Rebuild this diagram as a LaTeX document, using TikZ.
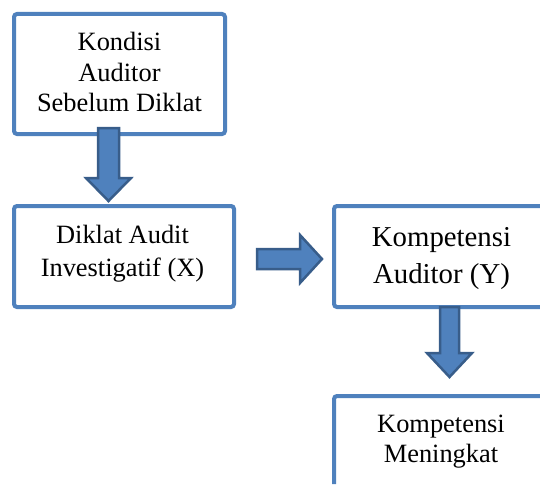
\documentclass[tikz,border=0pt]{standalone}
\usepackage{fontspec}
\setmainfont{Liberation Serif}
\definecolor{boxblue}{HTML}{4F81BD}
\definecolor{arrowedge}{HTML}{385D8A}
\tikzset{
  flowbox/.style={draw=boxblue, line width=4pt, rounded corners=3pt, rectangle, inner sep=0pt, fill=white},
  openbox/.style={draw=boxblue, line width=4pt, rounded corners=3pt, line cap=butt},
  txt/.style={anchor=base, inner sep=0pt, font=\fontsize{26.4}{30}\selectfont},
  bigtxt/.style={anchor=base, inner sep=0pt, font=\fontsize{28.8}{34}\selectfont},
  blockarrow/.style={fill=boxblue, draw=arrowedge, line width=2.5pt, line join=miter}
}
\begin{document}
\begin{tikzpicture}[x=1pt, y=-1pt]
\fill[white] (0,0) rectangle (540,484);
\useasboundingbox (0,0) rectangle (540,484);
% boxes
\node[flowbox, minimum width=211pt, minimum height=120pt] (b1) at (119.5,74) {};
\node[flowbox, minimum width=220pt, minimum height=101pt] (b2) at (124,256.5) {};
\coordinate (b3ne) at (540,206);
\coordinate (b3nw) at (334,206);
\coordinate (b3sw) at (334,307);
\coordinate (b3se) at (540,307);
\draw[openbox] (b3ne) -- (b3nw) -- (b3sw) -- (b3se);
\coordinate (b4ne) at (540,396);
\coordinate (b4nw) at (334,396);
\coordinate (b4sw) at (334,484);
\draw[openbox] (b4ne) -- (b4nw) -- (b4sw);
% texts
\node[txt] (t1a) at (119.5,51) {Kondisi};
\node[txt] (t1b) at (119.5,82) {Auditor};
\node[txt] (t1c) at (119.5,112) {Sebelum Diklat};
\node[txt] (t2a) at (122.5,243) {Diklat Audit};
\node[txt] (t2b) at (122.5,276) {Investigatif (X)};
\node[bigtxt] (t3a) at (441.5,246) {Kompetensi};
\node[bigtxt] (t3b) at (441.5,283) {Auditor (Y)};
\node[txt] (t4a) at (441,432) {Kompetensi};
\node[txt] (t4b) at (441,462) {Meningkat};
% block arrows
\draw[blockarrow] (98,128) -- (119,128) -- (119,178) -- (131,178) -- (108.5,201) -- (86,178) -- (98,178) -- cycle;
\draw[blockarrow] (257,249) -- (300,249) -- (300,235) -- (322,259) -- (300,283) -- (300,269) -- (257,269) -- cycle;
\draw[blockarrow] (440,307) -- (459,307) -- (459,353) -- (472,353) -- (449.5,377) -- (427,353) -- (440,353) -- cycle;
\end{tikzpicture}
\end{document}
